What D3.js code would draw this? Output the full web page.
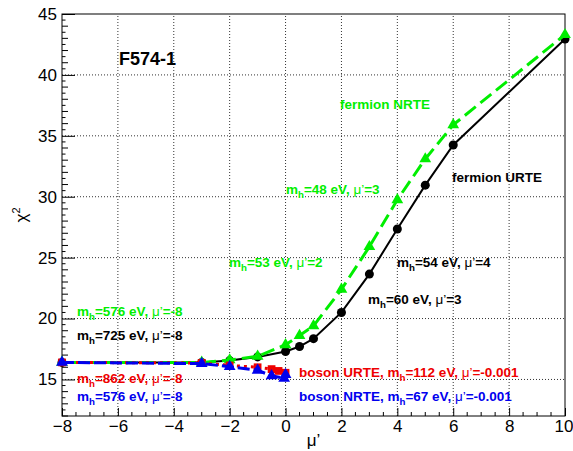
<!DOCTYPE html>
<html>
<head>
<meta charset="utf-8">
<script src="https://cdn.jsdelivr.net/npm/d3@7"></script>
<style>
  body { margin: 0; background: #fff; }
  svg { font-family: "Liberation Sans", Arial, sans-serif; }
</style>
</head>
<body>
<div id="chart"></div>
<script>
// values
const xTicks = [-8, -6, -4, -2, 0, 2, 4, 6, 8, 10];
const yTicks = [15, 20, 25, 30, 35, 40, 45];

const fermionUrteX = [-8, -3, -2, -1, 0, 0.5, 1, 2, 3, 4, 5, 6, 10];
const fermionUrteY = [16.4, 16.4, 16.55, 16.85, 17.3, 17.7, 18.35, 20.5, 23.65, 27.35, 30.95, 34.25, 42.95];

const fermionNrteX = [-8, -3, -2, -1, 0, 0.5, 1, 2, 3, 4, 5, 6, 10];
const fermionNrteY = [16.4, 16.4, 16.6, 16.9, 17.85, 18.6, 19.4, 22.4, 25.9, 29.75, 33.1, 35.9, 43.3];

const bosonUrteX = [-8, -3, -2, -1, -0.5, -0.25, 0];
const bosonUrteY = [16.4, 16.35, 16.15, 16.0, 15.85, 15.7, 15.55];

const bosonNrteX = [-8, -3, -2, -1, -0.5, -0.05, 0];
const bosonNrteY = [16.4, 16.3, 16.05, 15.75, 15.3, 15.1, 15.4];

let width = 573, height = 451;
let margin = {top: 14, right: 8, bottom: 35, left: 62};

let svg = d3.select("#chart").append("svg")
    .attr("width", width)
    .attr("height", height);

let x = d3.scaleLinear().domain([-8, 10]).range([margin.left, width - margin.right]);
let y = d3.scaleLinear().domain([12, 45]).range([height - margin.bottom, margin.top]);

// grid
svg.append("g").selectAll("line")
    .data(xTicks.filter(d => d > -8 && d < 10))
    .enter().append("line")
    .attr("x1", d => x(d)).attr("x2", d => x(d))
    .attr("y1", y(12)).attr("y2", y(45))
    .attr("stroke", "#333").attr("stroke-width", 1)
    .attr("stroke-dasharray", "1,2");

svg.append("g").selectAll("line")
    .data(yTicks.filter(d => d < 45))
    .enter().append("line")
    .attr("y1", d => y(d)).attr("y2", d => y(d))
    .attr("x1", x(-8)).attr("x2", x(10))
    .attr("stroke", "#333").attr("stroke-width", 1)
    .attr("stroke-dasharray", "1,2");

// minor ticks
let xMinor = d3.range(-8, 10.01, 0.5).filter(d => !xTicks.includes(d));
svg.append("g").selectAll("line")
    .data(xMinor)
    .enter().append("line")
    .attr("x1", d => x(d)).attr("x2", d => x(d))
    .attr("y1", y(12)).attr("y2", y(12) - 4)
    .attr("stroke", "#000");

let yMinor = d3.range(12, 45.01, 0.5).filter(d => !yTicks.includes(d));
svg.append("g").selectAll("line")
    .data(yMinor)
    .enter().append("line")
    .attr("y1", d => y(d)).attr("y2", d => y(d))
    .attr("x1", x(-8)).attr("x2", d => x(-8) + (d % 1 === 0 ? 6 : 3.5))
    .attr("stroke", "#000");

// axes
const fmt = d => (d < 0 ? "\u2212" + Math.abs(d) : "" + d);

let xAxis = svg.append("g")
    .attr("transform", `translate(0, ${y(12)})`)
    .call(d3.axisBottom(x).tickValues(xTicks).tickSizeInner(-8).tickSizeOuter(0).tickPadding(4).tickFormat(fmt));
xAxis.select(".domain").remove();
xAxis.selectAll("text").attr("font-size", 17).attr("font-family", "Liberation Sans").attr("fill", "#000");
// last label would run past the window edge
xAxis.selectAll("text").filter(d => d === 10).attr("text-anchor", "end").attr("dx", 8);

let yAxis = svg.append("g")
    .attr("transform", `translate(${x(-8)}, 0)`)
    .call(d3.axisLeft(y).tickValues(yTicks).tickSizeInner(-13).tickSizeOuter(0).tickPadding(5).tickFormat(fmt));
yAxis.select(".domain").remove();
yAxis.selectAll("text").attr("font-size", 17).attr("font-family", "Liberation Sans").attr("fill", "#000");

// frame
svg.append("rect")
    .attr("x", x(-8)).attr("y", y(45))
    .attr("width", x(10) - x(-8)).attr("height", y(12) - y(45))
    .attr("fill", "none").attr("stroke", "#000").attr("stroke-width", 1);

// axis titles
svg.append("text")
    .attr("x", (x(-8) + x(10)) / 2).attr("y", 446)
    .attr("text-anchor", "middle").attr("font-size", 17)
    .text("\u03bc\u2019");

let yt = svg.append("text")
    .attr("transform", `translate(27, ${(y(12) + y(45)) / 2}) rotate(-90)`)
    .attr("text-anchor", "middle").attr("font-size", 17);
yt.append("tspan").text("\u03c7");
yt.append("tspan").attr("font-size", 11).attr("dy", -7).text("2");

// curves
const line = d3.line().x(d => x(d[0])).y(d => y(d[1]));

function drawSeries(xs, ys, color, width, dash, marker, size) {
    let pts = d3.zip(xs, ys);
    svg.append("path")
        .datum(pts)
        .attr("d", line)
        .attr("fill", "none")
        .attr("stroke", color)
        .attr("stroke-width", width)
        .attr("stroke-dasharray", dash);
    svg.append("g").selectAll("path")
        .data(pts)
        .enter().append("path")
        .attr("transform", d => `translate(${x(d[0])}, ${y(d[1])})`)
        .attr("d", d3.symbol().type(marker).size(size))
        .attr("fill", color);
}

drawSeries(fermionUrteX, fermionUrteY, "#000", 2, null, d3.symbolCircle, 64);
drawSeries(fermionNrteX, fermionNrteY, "#00ee00", 3, "14,6", d3.symbolTriangle, 60);
drawSeries(bosonUrteX, bosonUrteY, "#ee0000", 3, "3,4", d3.symbolSquare, 60);
drawSeries(bosonNrteX, bosonNrteY, "#0000ee", 3, "12,4", d3.symbolTriangle, 60);

// labels
function label(px, py, color, size, prefix, mass, mu) {
    let t = svg.append("text")
        .attr("x", px).attr("y", py)
        .attr("fill", color)
        .attr("font-size", size)
        .attr("font-weight", "bold");
    if (prefix) t.append("tspan").text(prefix);
    if (mass) {
        t.append("tspan").text("m");
        t.append("tspan").attr("font-size", size * 0.72).attr("dy", 4).text("h");
        t.append("tspan").attr("dy", -4).text("=" + mass + " eV,  ");
        t.append("tspan").attr("font-weight", "normal").text("\u03bc\u2019");
        t.append("tspan").text("=" + mu);
    }
    return t;
}

label(119, 65, "#000", 18, "F574-1");
label(340, 109, "#00ee00", 13.5, "fermion NRTE");
label(452, 182, "#000", 13.5, "fermion URTE");
label(286, 194, "#00ee00", 13.5, null, "48", "3");
label(229, 267, "#00ee00", 13.5, null, "53", "2");
label(397, 267, "#000", 13.5, null, "54", "4");
label(368, 304, "#000", 13.5, null, "60", "3");
label(77, 316, "#00ee00", 13.5, null, "576", "-8");
label(77, 340, "#000", 13.5, null, "725", "-8");
label(77, 383, "#ee0000", 13.5, null, "862", "-8");
label(77, 401, "#0000ee", 13.5, null, "576", "-8");
label(299, 377, "#ee0000", 13.5, "boson URTE, ", "112", "-0.001");
label(299, 401, "#0000ee", 13.5, "boson NRTE, ", "67", "-0.001");
</script>
</body>
</html>
